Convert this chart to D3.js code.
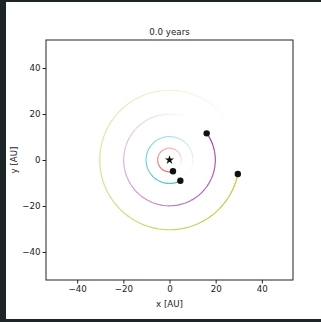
<!DOCTYPE html>
<html>
<head>
<meta charset="utf-8">
<script src="https://cdn.jsdelivr.net/npm/d3@7"></script>
<style>
  html, body { margin: 0; padding: 0; background: #1e2528; }
  svg { display: block; }
  .tick text { font-family: "DejaVu Sans", sans-serif; font-size: 8.7px; fill: #222; }
  .tick line { stroke: #222; }
  .domain { stroke: none; }
</style>
</head>
<body>
<script>
// planets at t = 0 (AU)
var planetX = [1.5, 4.7, 16.1, 29.6];
var planetY = [-4.9, -9.0, 11.6, -6.1];
var trailColor = ['#dc4a44', '#2fb7c6', '#9d3fa6', '#c3c53c'];
var trailSpan = [330, 330, 330, 320]; // degrees of trail behind each planet
var starPos = [0, 0];
var xTicks = [-40, -20, 0, 20, 40];
var yTicks = [-40, -20, 0, 20, 40];
var title = '0.0 years';

var W = 321, H = 322;
var margin = {top: 40, right: 28, bottom: 42, left: 46};
var width = 293 - margin.left;
var height = 280 - margin.top;

var svg = d3.select('body').append('svg')
  .attr('width', W)
  .attr('height', H);

// white canvas, dark frame around it
svg.append('rect')
  .attr('x', 6).attr('y', 2)
  .attr('width', W - 6).attr('height', 317)
  .attr('fill', '#fff');

var g = svg.append('g')
  .attr('transform', `translate(${margin.left},${margin.top})`);

var xScale = d3.scaleLinear().domain([-53.5, 53.5]).range([0, width]);
var yScale = d3.scaleLinear().domain([-52.2, 52.2]).range([height, 0]);

var xAxis = d3.axisBottom(xScale).tickValues(xTicks).tickSize(3.5).tickPadding(2)
  .tickFormat(d => d < 0 ? '\u2212' + Math.abs(d) : d);
var yAxis = d3.axisLeft(yScale).tickValues(yTicks).tickSize(3.5).tickPadding(2)
  .tickFormat(d => d < 0 ? '\u2212' + Math.abs(d) : d);

g.append('g').attr('class', 'axis x')
  .attr('transform', `translate(0,${height})`)
  .call(xAxis);
g.append('g').attr('class', 'axis y')
  .call(yAxis);

// trails: drawn as short pieces with fading opacity
var pxPerAU = xScale(1) - xScale(0);
var trails = g.append('g').attr('class', 'trails');
planetX.forEach(function(px, i){
  var py = planetY[i];
  var r = Math.sqrt(px * px + py * py);
  var a0 = Math.atan2(py, px);
  var n = 120;
  var span = trailSpan[i] * Math.PI / 180;
  for(let k = 0; k < n; k++){
    var s0 = a0 - span * k / n;
    var s1 = a0 - span * (k + 1) / n - 0.004;
    var p = d3.path();
    // svg y is flipped, so angles go the other way
    p.arc(xScale(0), yScale(0), r * pxPerAU, -s0, -s1, false);
    trails.append('path')
      .attr('d', p.toString())
      .attr('fill', 'none')
      .attr('stroke', trailColor[i])
      .attr('stroke-width', 1.15)
      .attr('stroke-opacity', Math.pow(1 - k / n, 0.95));
  }
});

// star
g.append('path')
  .attr('d', d3.symbol().type(d3.symbolStar).size(26)())
  .attr('transform', `translate(${xScale(starPos[0])},${yScale(starPos[1])})`)
  .attr('fill', '#111');

// planets
g.selectAll('circle.planet')
  .data(planetX)
  .enter().append('circle')
  .attr('class', 'planet')
  .attr('cx', d => xScale(d))
  .attr('cy', (d, i) => yScale(planetY[i]))
  .attr('r', 3.2)
  .attr('fill', '#111');

// frame
g.append('rect')
  .attr('width', width).attr('height', height)
  .attr('fill', 'none')
  .attr('stroke', '#222')
  .attr('stroke-width', 1);

g.append('text')
  .attr('x', width / 2).attr('y', -5)
  .attr('text-anchor', 'middle')
  .style('font-family', '"DejaVu Sans", sans-serif')
  .style('font-size', '8.7px')
  .attr('fill', '#222')
  .text(title);

g.append('text')
  .attr('x', width / 2).attr('y', height + 27)
  .attr('text-anchor', 'middle')
  .style('font-family', '"DejaVu Sans", sans-serif')
  .style('font-size', '8.7px')
  .attr('fill', '#222')
  .text('x [AU]');

g.append('text')
  .attr('transform', `translate(${-29},${height / 2}) rotate(-90)`)
  .attr('text-anchor', 'middle')
  .style('font-family', '"DejaVu Sans", sans-serif')
  .style('font-size', '8.7px')
  .attr('fill', '#222')
  .text('y [AU]');
</script>
</body>
</html>
